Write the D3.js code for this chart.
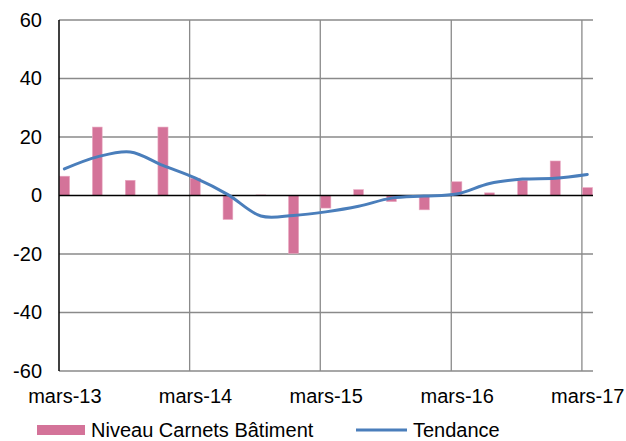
<!DOCTYPE html>
<html>
<head>
<meta charset="utf-8">
<script src="https://cdn.jsdelivr.net/npm/d3@7.9.0/dist/d3.min.js"></script>
<style>
  body { margin: 0; background: #fff; }
  svg { font-family: "Liberation Sans", Arial, sans-serif; }
</style>
</head>
<body>
<svg width="626" height="441"></svg>
<script>
// quarterly dates, from mars-13 to mars-17
const quarters = ['2013-03', '2013-06', '2013-09', '2013-12', '2014-03', '2014-06', '2014-09', '2014-12',
  '2015-03', '2015-06', '2015-09', '2015-12', '2016-03', '2016-06', '2016-09', '2016-12', '2017-03'];
const niveau = [6.6, 23.4, 5.2, 23.4, 5.9, -8.2, 0.2, -19.8, -4.3, 2.0, -2.1, -4.9, 4.7, 0.9, 5.2, 11.8, 2.7];
const tendance = [9.1, 13.2, 14.9, 10.3, 6.0, 0.3, -7.0, -6.8, -5.6, -3.7, -0.9, -0.2, 0.5, 4.1, 5.6, 5.9, 7.2];
const xLabels = ['mars-13', 'mars-14', 'mars-15', 'mars-16', 'mars-17'];
const yTicks = [-60, -40, -20, 0, 20, 40, 60];

const parse = d3.timeParse('%Y-%m');
const dates = quarters.map(parse);
const yearDates = xLabels.map((d, i) => new Date(2013 + i, 2, 1));

const svg = d3.select('svg');
const plotLeft = 59, plotRight = 593, plotTop = 20, plotBottom = 371;

const x = d3.scaleTime()
  .domain([new Date(2013, 2, 1), new Date(2017, 3, 1)])
  .range([plotLeft, plotRight]);
const y = d3.scaleLinear().domain([-60, 60]).range([plotBottom, plotTop]);

const mid = d => d3.timeDay.offset(d, 15);

// horizontal grid
svg.append('g')
  .selectAll('line')
  .data(yTicks.filter(v => v !== 0))
  .join('line')
  .attr('x1', plotLeft).attr('x2', plotRight)
  .attr('y1', d => y(d)).attr('y2', d => y(d))
  .attr('stroke', '#8a8a8a').attr('stroke-width', 1.3);

// vertical grid (yearly)
svg.append('g')
  .selectAll('line')
  .data(yearDates.slice(1))
  .join('line')
  .attr('x1', d => x(d)).attr('x2', d => x(d))
  .attr('y1', plotTop).attr('y2', plotBottom)
  .attr('stroke', '#8a8a8a').attr('stroke-width', 1.3);

// bars
svg.append('g')
  .selectAll('rect')
  .data(niveau)
  .join('rect')
  .attr('x', (d, i) => x(dates[i]) + 0.5)
  .attr('width', (d, i) => x(d3.timeMonth.offset(dates[i], 1)) - x(dates[i]) - 1)
  .attr('y', d => y(Math.max(0, d)))
  .attr('height', d => Math.abs(y(d) - y(0)))
  .attr('fill', '#d47399')
  .attr('stroke', '#e9a9c2').attr('stroke-width', 0.6);

// zero line and y axis line
svg.append('line')
  .attr('x1', plotLeft).attr('x2', plotRight)
  .attr('y1', y(0)).attr('y2', y(0))
  .attr('stroke', '#000').attr('stroke-width', 1.5);
svg.append('line')
  .attr('x1', x(yearDates[0])).attr('x2', x(yearDates[0]))
  .attr('y1', plotTop).attr('y2', plotBottom)
  .attr('stroke', '#000').attr('stroke-width', 1.5);

// trend
const line = d3.line()
  .x((d, i) => x(mid(dates[i])))
  .y(d => y(d))
  .curve(d3.curveCatmullRom.alpha(0.5));
svg.append('path')
  .datum(tendance)
  .attr('d', line)
  .attr('fill', 'none')
  .attr('stroke', '#4a7ebb')
  .attr('stroke-width', 3)
  .attr('stroke-linecap', 'round');

// y axis labels (plain hyphen for negatives, like the original)
const yAxis = svg.append('g')
  .attr('transform', `translate(${plotLeft - 17},0)`)
  .call(d3.axisLeft(y).tickValues(yTicks).tickSize(0).tickPadding(0).tickFormat(d => String(d)));
yAxis.select('.domain').remove();
yAxis.selectAll('text').attr('font-size', 20).attr('fill', '#000')
  .attr('font-family', '"Liberation Sans", Arial, sans-serif');

// x axis labels
const xAxis = svg.append('g')
  .attr('transform', `translate(0,${plotBottom})`)
  .call(d3.axisBottom(x).tickValues(yearDates.map(mid)).tickSize(0).tickPadding(18)
    .tickFormat((d, i) => xLabels[i]));
xAxis.select('.domain').remove();
xAxis.selectAll('text').attr('font-size', 20).attr('fill', '#000')
  .attr('font-family', '"Liberation Sans", Arial, sans-serif');

// legend
const legend = svg.append('g');
legend.append('rect')
  .attr('x', 37).attr('y', 425).attr('width', 48).attr('height', 10)
  .attr('fill', '#d47399');
legend.append('text')
  .attr('x', 91).attr('y', 436.5).attr('font-size', 20)
  .text('Niveau Carnets Bâtiment');
legend.append('line')
  .attr('x1', 356).attr('x2', 407).attr('y1', 430).attr('y2', 430)
  .attr('stroke', '#4a7ebb').attr('stroke-width', 3);
legend.append('text')
  .attr('x', 413).attr('y', 436.5).attr('font-size', 20)
  .text('Tendance');
</script>
</body>
</html>
